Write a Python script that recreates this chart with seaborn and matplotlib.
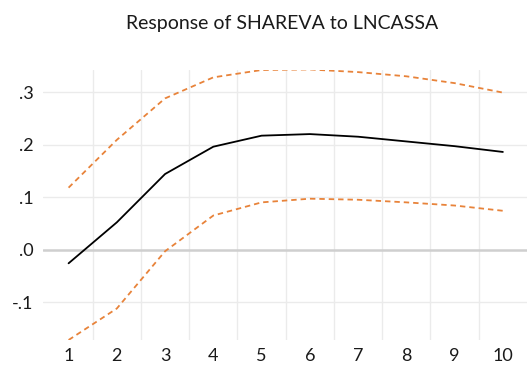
import numpy as np
import pandas as pd
import matplotlib
matplotlib.use("Agg")
import matplotlib.pyplot as plt
from matplotlib.ticker import FixedLocator, FuncFormatter
import seaborn as sns

# Impulse response of SHAREVA to a shock in LNCASSA, with +/- 2 S.E. bands
periods = [1, 2, 3, 4, 5, 6, 7, 8, 9, 10]
response = [-0.026, 0.052, 0.144, 0.196, 0.217, 0.220, 0.215, 0.206, 0.197, 0.186]
upper_band = [0.118, 0.209, 0.288, 0.328, 0.342, 0.343, 0.338, 0.330, 0.317, 0.299]
lower_band = [-0.172, -0.112, -0.003, 0.065, 0.090, 0.097, 0.095, 0.090, 0.084, 0.074]
y_ticks = [-0.1, 0.0, 0.1, 0.2, 0.3]
title = "Response of SHAREVA to LNCASSA"

df = pd.DataFrame({"period": periods, "response": response,
                   "upper": upper_band, "lower": lower_band})

sns.set_theme(style="white")
plt.rcParams["font.family"] = ["Lato", "DejaVu Sans"]

fig = plt.figure(figsize=(5.27, 3.68), dpi=100)
ax = fig.add_axes([43 / 527, 1 - 340 / 368, 484 / 527, 270 / 368])

# grid: horizontal at value ticks, vertical between periods
for yv in y_ticks:
    if yv == 0.0:
        ax.axhline(yv, color="#cfcfcf", lw=1.8, zorder=1)
    else:
        ax.axhline(yv, color="#ebebeb", lw=1.0, zorder=0)
ax.xaxis.set_minor_locator(FixedLocator([p + 0.5 for p in periods[:-1]]))
ax.grid(which="minor", axis="x", color="#ebebeb", lw=1.0)
ax.set_axisbelow(True)

band_style = dict(color="#E8833A", lw=1.3, linestyle=(0, (3.0, 2.2)))
sns.lineplot(data=df, x="period", y="upper", ax=ax, **band_style)
sns.lineplot(data=df, x="period", y="lower", ax=ax, **band_style)
sns.lineplot(data=df, x="period", y="response", ax=ax, color="black", lw=1.3)

ax.set_xlim(0.47, 10.5)
ax.set_ylim(-0.172, 0.342)
ax.set_xticks(periods)
ax.set_xticklabels([str(p) for p in periods])
ax.set_yticks(y_ticks)
ax.yaxis.set_major_formatter(FuncFormatter(
    lambda v, _: ("-" if v < -1e-9 else "") + f"{abs(v):.1f}".lstrip("0")))
ax.tick_params(axis="both", which="both", length=0, labelsize=13,
               labelcolor="#1a1a1a")
ax.tick_params(axis="x", pad=6)
ax.tick_params(axis="y", pad=7)
ax.set_xlabel("")
ax.set_ylabel("")
for s in ax.spines.values():
    s.set_visible(False)

fig.text(282 / 527, 1 - 23 / 368, title, ha="center", va="center",
         fontsize=14, color="#1a1a1a")

fig.savefig("out.png", dpi=100)
